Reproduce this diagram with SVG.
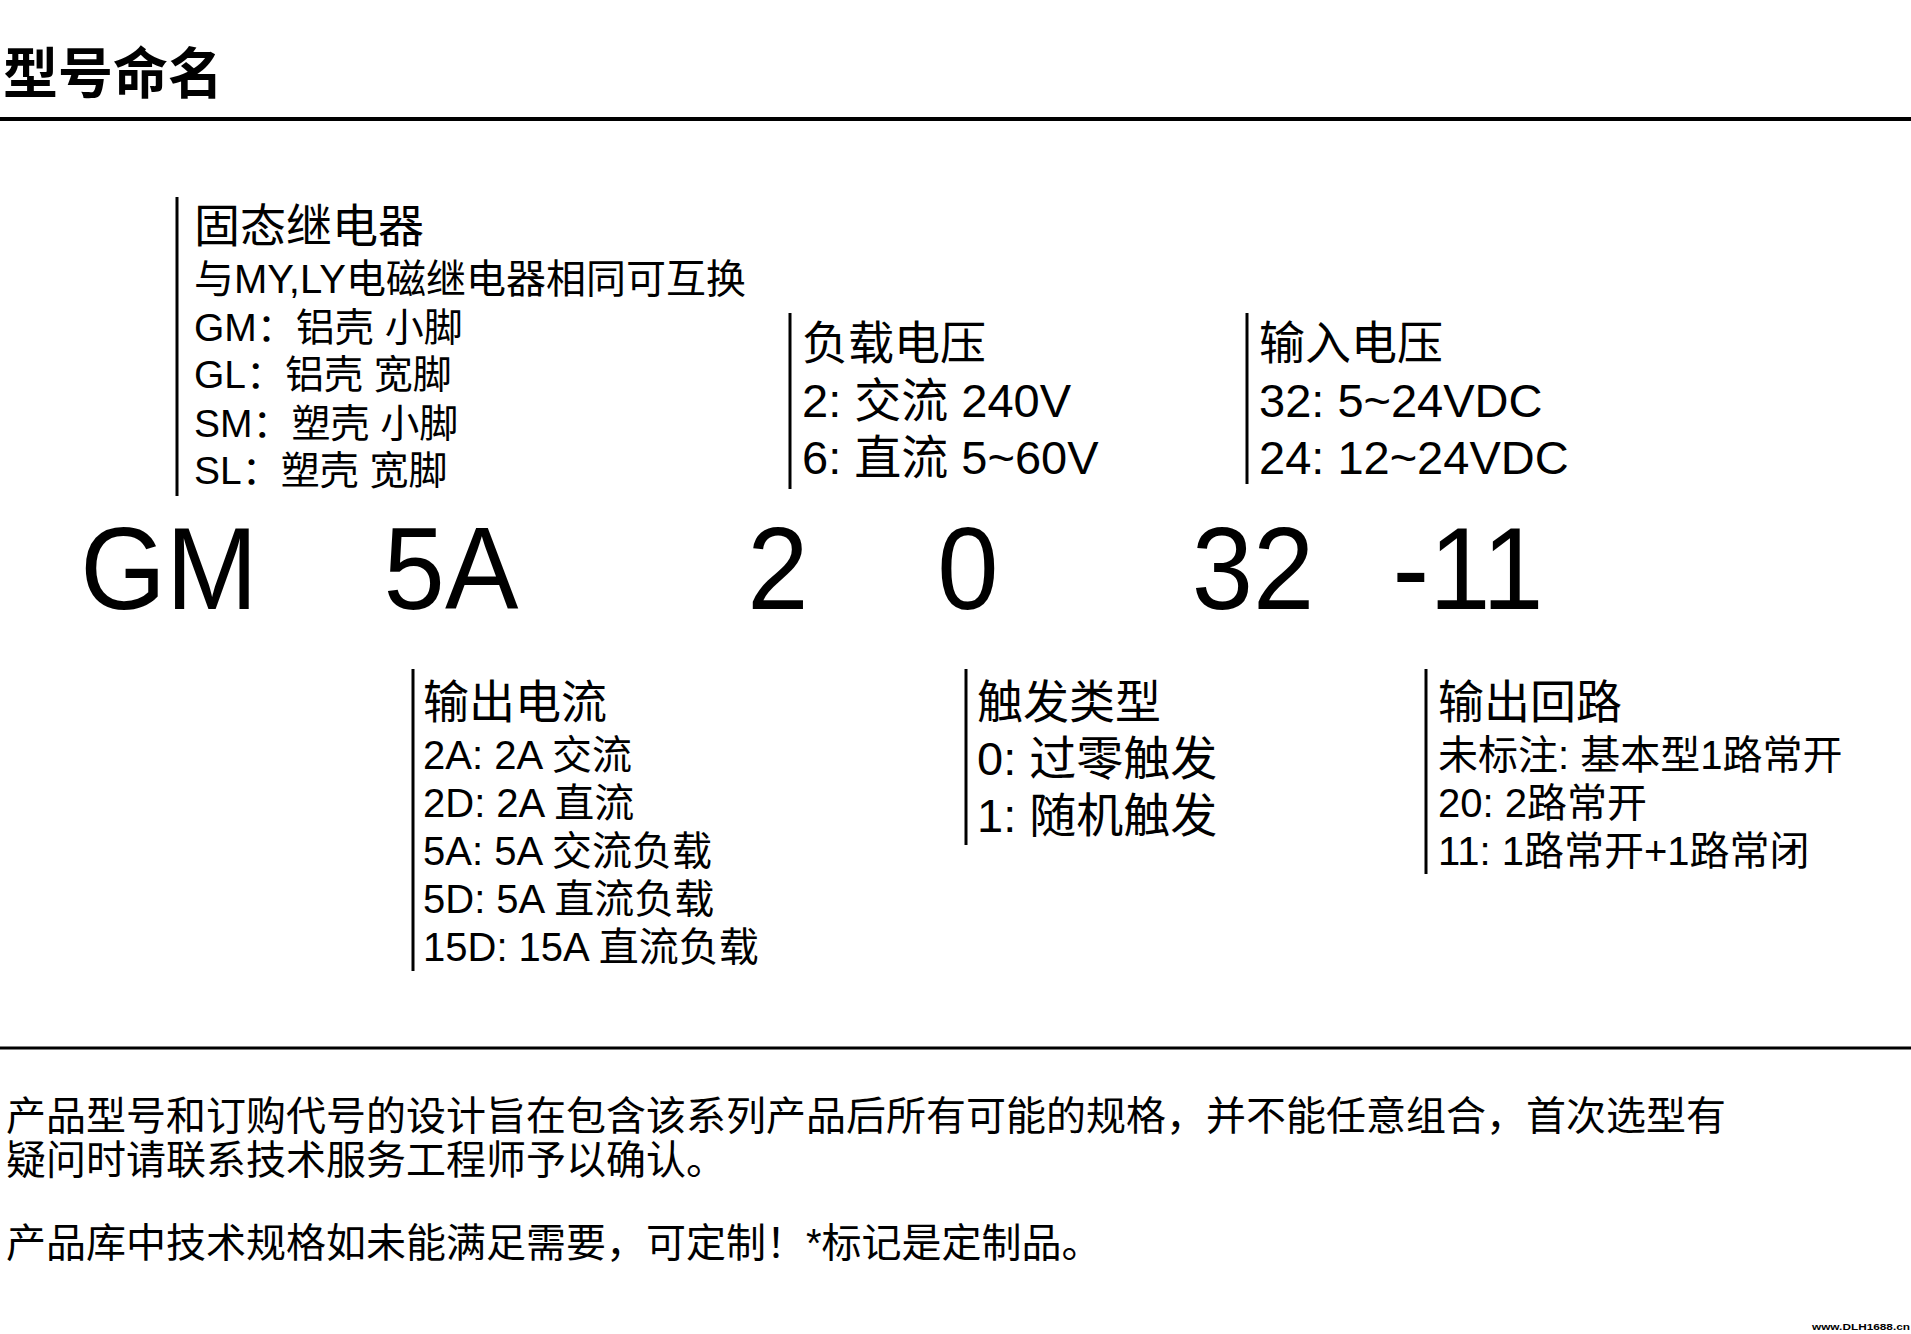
<svg xmlns="http://www.w3.org/2000/svg" width="1911" height="1334" viewBox="0 0 1911 1334">
<style>
text{font-family:"Liberation Sans","Noto Sans CJK SC",sans-serif;fill:#000}
.h{font-size:46px}
.m{font-size:47px}
.s{font-size:40px}
.l{font-size:39px}
.code{font-size:116px;text-anchor:middle}
.p{font-size:40px}
.bar{stroke:#000;stroke-width:3}
.rule{stroke:#000}
</style>
<rect width="1911" height="1334" fill="#fff"/>
<g id="header">
<text x="3" y="93" style="font-size:55px;font-weight:bold;font-family:'Noto Sans CJK SC',sans-serif">型号命名</text>
<line class="rule" x1="0" y1="119" x2="1911" y2="119" stroke-width="4"/>
</g>
<g id="series">
<line class="bar" x1="177" y1="197" x2="177" y2="496"/>
<text class="h" x="194" y="242">固态继电器</text>
<text class="s" x="194" y="293">与MY,LY电磁继电器相同可互换</text>
<text class="l" x="194" y="341">GM：铝壳 小脚</text>
<text class="l" x="194" y="388">GL：铝壳 宽脚</text>
<text class="l" x="194" y="437">SM：塑壳 小脚</text>
<text class="l" x="194" y="484">SL：塑壳 宽脚</text>
</g>
<g id="load-voltage">
<line class="bar" x1="790" y1="313" x2="790" y2="489"/>
<text class="h" x="802" y="359">负载电压</text>
<text class="m" x="802" y="417">2: 交流 240V</text>
<text class="m" x="802" y="474">6: 直流 5~60V</text>
</g>
<g id="input-voltage">
<line class="bar" x1="1247" y1="313" x2="1247" y2="484"/>
<text class="h" x="1259" y="359">输入电压</text>
<text class="m" x="1259" y="417">32: 5~24VDC</text>
<text class="m" x="1259" y="474">24: 12~24VDC</text>
</g>
<g id="model-code">
<text class="code" transform="translate(169,609) scale(0.95,1)">GM</text>
<text class="code" transform="translate(451,609) scale(0.95,1)">5A</text>
<text class="code" transform="translate(778,609) scale(0.95,1)">2</text>
<text class="code" transform="translate(968,609) scale(0.95,1)">0</text>
<text class="code" transform="translate(1253,609) scale(0.95,1)">32</text>
<text class="code" transform="translate(1468,609) scale(0.95,1)">-11</text>
</g>
<g id="output-current">
<line class="bar" x1="413" y1="669" x2="413" y2="971"/>
<text class="h" x="423" y="718">输出电流</text>
<text class="s" x="423" y="769">2A: 2A 交流</text>
<text class="s" x="423" y="817">2D: 2A 直流</text>
<text class="s" x="423" y="865">5A: 5A 交流负载</text>
<text class="s" x="423" y="913">5D: 5A 直流负载</text>
<text class="s" x="423" y="961">15D: 15A 直流负载</text>
</g>
<g id="trigger-type">
<line class="bar" x1="966" y1="669" x2="966" y2="845"/>
<text class="h" x="977" y="718">触发类型</text>
<text class="m" x="977" y="775">0: 过零触发</text>
<text class="m" x="977" y="832">1: 随机触发</text>
</g>
<g id="output-circuit">
<line class="bar" x1="1426" y1="669" x2="1426" y2="874"/>
<text class="h" x="1438" y="718">输出回路</text>
<text class="s" x="1438" y="769">未标注: 基本型1路常开</text>
<text class="s" x="1438" y="817">20: 2路常开</text>
<text class="s" x="1438" y="865">11: 1路常开+1路常闭</text>
</g>
<g id="notes">
<line class="rule" x1="0" y1="1048" x2="1911" y2="1048" stroke-width="3"/>
<text class="p" x="6" y="1130">产品型号和订购代号的设计旨在包含该系列产品后所有可能的规格，并不能任意组合，首次选型有</text>
<text class="p" x="6" y="1174">疑问时请联系技术服务工程师予以确认。</text>
<text class="p" x="6" y="1257">产品库中技术规格如未能满足需要，可定制！*标记是定制品。</text>
<text x="1812" y="1330" style="font-size:9px;font-weight:bold" textLength="98" lengthAdjust="spacingAndGlyphs">www.DLH1688.cn</text>
</g>
</svg>
